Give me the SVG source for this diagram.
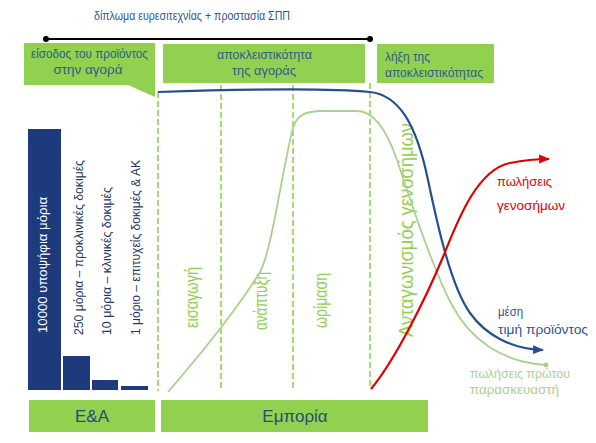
<svg xmlns="http://www.w3.org/2000/svg" width="596" height="443" viewBox="0 0 596 443">
<defs>
<style>
text{font-family:"Liberation Sans",Arial,sans-serif;}
.box{fill:#92D050;}
.bt{fill:#2E5C8A;font-size:13px;}
.bar{fill:#1D3A7C;}
.bart{fill:#1F3864;font-size:13px;}
.ph{fill:#92D050;font-size:18px;}
.dash{stroke:#92D050;stroke-width:1.6;stroke-dasharray:6 3;fill:none;}
.big{fill:#1F4E79;font-size:17px;}
</style>
<marker id="arB" viewBox="0 0 10 10" refX="9" refY="5" markerWidth="5" markerHeight="5" orient="auto" markerUnits="strokeWidth"><path d="M0,1 L10,5 L0,9 Z" fill="#24508F"/></marker>
<marker id="arR" viewBox="0 0 10 10" refX="9" refY="5" markerWidth="5" markerHeight="5" orient="auto" markerUnits="strokeWidth"><path d="M0,1 L10,5 L0,9 Z" fill="#E00000"/></marker>
<marker id="dotG" viewBox="0 0 10 10" refX="5" refY="5" markerWidth="3" markerHeight="3" orient="auto" markerUnits="strokeWidth"><circle cx="5" cy="5" r="4.5" fill="#A9D18E"/></marker>
</defs>
<rect width="596" height="443" fill="#FFFFFF"/>

<g id="patent">
<text x="94" y="20" font-size="12" fill="#2F5597" textLength="196" lengthAdjust="spacingAndGlyphs">δίπλωμα ευρεσιτεχνίας + προστασία ΣΠΠ</text>
<line x1="46" y1="39" x2="370" y2="39" stroke="#000" stroke-width="2"/>
<circle cx="46" cy="39" r="3" fill="#000"/>
<circle cx="370" cy="39" r="3" fill="#000"/>
</g>

<g id="entry">
<path class="box" d="M24,43 H155 V97 L128,85 H24 Z"/>
<text class="bt" x="89.5" y="58" text-anchor="middle" textLength="117" lengthAdjust="spacingAndGlyphs">είσοδος του προϊόντος</text>
<text class="bt" x="88" y="74" text-anchor="middle" textLength="69" lengthAdjust="spacingAndGlyphs">στην αγορά</text>
</g>

<g id="exclusivity">
<rect class="box" x="163" y="44" width="202" height="39"/>
<text class="bt" x="264.5" y="59" text-anchor="middle" textLength="95" lengthAdjust="spacingAndGlyphs">αποκλειστικότητα</text>
<text class="bt" x="264" y="75" text-anchor="middle" textLength="64" lengthAdjust="spacingAndGlyphs">της αγοράς</text>
</g>

<g id="expiry">
<rect class="box" x="377" y="44" width="117" height="39"/>
<text class="bt" x="385" y="61" textLength="45" lengthAdjust="spacingAndGlyphs">λήξη της</text>
<text class="bt" x="385" y="77" textLength="98" lengthAdjust="spacingAndGlyphs">αποκλειστικότητας</text>
</g>

<g id="bars">
<rect class="bar" x="28" y="129" width="33" height="261"/>
<rect class="bar" x="63" y="356" width="27" height="34"/>
<rect class="bar" x="92" y="380" width="26" height="10"/>
<rect class="bar" x="121" y="386" width="27" height="4"/>
<text transform="translate(47,333) rotate(-90)" fill="#FFFFFF" font-size="13" textLength="136" lengthAdjust="spacingAndGlyphs">10000 υποψήφια μόρια</text>
<text class="bart" transform="translate(83,335) rotate(-90)" textLength="175" lengthAdjust="spacingAndGlyphs">250 μόρια – προκλινικές δοκιμές</text>
<text class="bart" transform="translate(111,335) rotate(-90)" textLength="148" lengthAdjust="spacingAndGlyphs">10 μόρια – κλινικές δοκιμές</text>
<text class="bart" transform="translate(140,335) rotate(-90)" textLength="175" lengthAdjust="spacingAndGlyphs">1 μόριο – επιτυχείς δοκιμές &amp; ΑΚ</text>
</g>

<g id="phases">
<text class="ph" transform="translate(198,328) rotate(-90)" textLength="61" lengthAdjust="spacingAndGlyphs">εισαγωγή</text>
<text class="ph" transform="translate(267,330) rotate(-90)" textLength="58" lengthAdjust="spacingAndGlyphs">ανάπτυξη</text>
<text class="ph" transform="translate(327,328) rotate(-90)" textLength="55" lengthAdjust="spacingAndGlyphs">ωρίμαση</text>
<text transform="translate(413,337) rotate(-90)" fill="#92D050" font-size="21" textLength="214" lengthAdjust="spacingAndGlyphs">Ανταγωνισμός  γενοσήμων</text>
</g>

<g id="connectors">
<line class="dash" x1="158" y1="92" x2="158" y2="391"/>
<line class="dash" x1="221" y1="85" x2="221" y2="389"/>
<line class="dash" x1="293" y1="85" x2="293" y2="389"/>
<line class="dash" x1="370" y1="83" x2="370" y2="389"/>
<path d="M168,392 C200,355 238,308 260,272 C272,250 283,165 293,128 C297,115 305,111 323,111 L357,111 C372,111 385,125 397,160 C405,183 430,265 453,307 C470,338 500,362 546,365" fill="none" stroke="#A9D18E" stroke-width="1.8" marker-end="url(#dotG)"/>
<path d="M158,92 C250,89 330,88 370,92 C398,95 416,122 428,180 C436,218 450,285 470,313 C485,334 510,349 543,350" fill="none" stroke="#24508F" stroke-width="2.2" marker-end="url(#arB)"/>
<path d="M371,389 C395,360 425,300 443,257 C455,228 475,170 510,163 C525,160 535,159 549,159" fill="none" stroke="#E00000" stroke-width="2.2" marker-end="url(#arR)"/>
</g>

<g id="legend">
<text x="497" y="186" font-size="13" fill="#E00000" textLength="55" lengthAdjust="spacingAndGlyphs">πωλήσεις</text>
<text x="497" y="210" font-size="13" fill="#E00000" textLength="68" lengthAdjust="spacingAndGlyphs">γενοσήμων</text>
<text x="498" y="316" font-size="13" fill="#2F5597" textLength="25" lengthAdjust="spacingAndGlyphs">μέση</text>
<text x="498" y="334" font-size="13" fill="#2F5597" textLength="90" lengthAdjust="spacingAndGlyphs">τιμή προϊόντος</text>
<text x="470" y="378" font-size="13" fill="#A9D18E" textLength="100" lengthAdjust="spacingAndGlyphs">πωλήσεις πρώτου</text>
<text x="470" y="394" font-size="13" fill="#A9D18E" textLength="89" lengthAdjust="spacingAndGlyphs">παρασκευαστή</text>
</g>

<g id="rd">
<rect class="box" x="29" y="400" width="126" height="32"/>
<text class="big" x="92" y="422" text-anchor="middle">Ε&amp;Α</text>
</g>
<g id="commerce">
<rect class="box" x="161" y="400" width="267" height="32"/>
<text class="big" x="295" y="422" text-anchor="middle">Εμπορία</text>
</g>
</svg>
